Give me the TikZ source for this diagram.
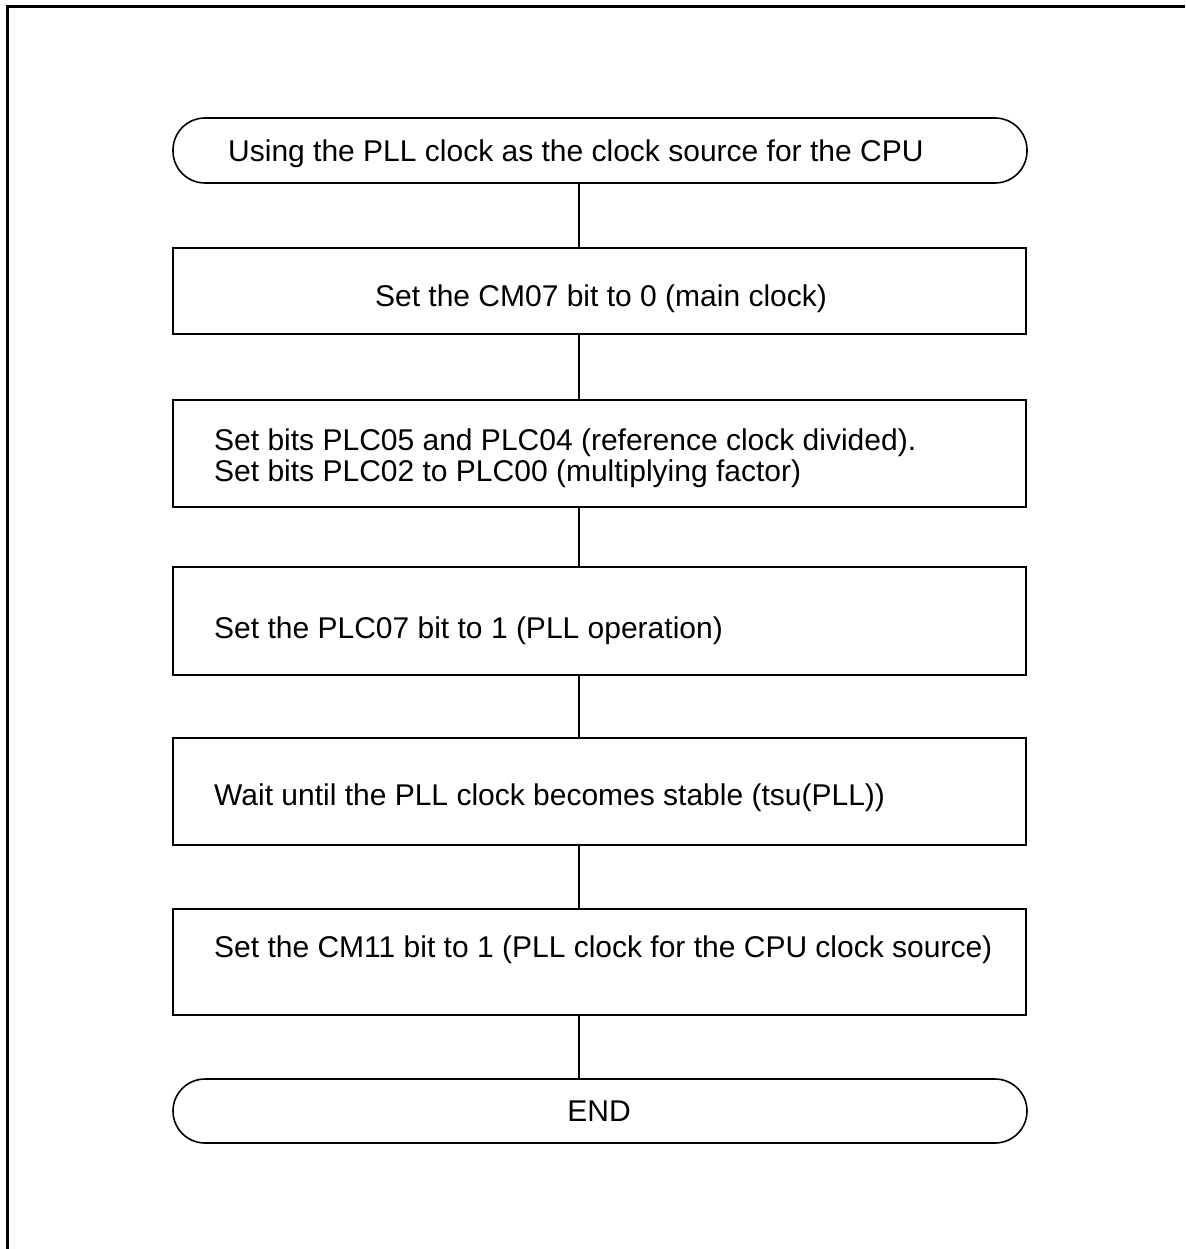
\documentclass[tikz,border=0pt]{standalone}
\usepackage{fontspec}
\setmainfont{Liberation Sans}
\begin{document}
\begin{tikzpicture}[x=1pt,y=-1pt,
  frameline/.style={line width=3pt},
  term/.style={draw,line width=1.6pt,rectangle,minimum width=854pt,rounded corners=32pt,inner sep=0pt},
  procbox/.style={draw,line width=1.6pt,rectangle,minimum width=853pt,inner sep=0pt},
  lbl/.style={font=\fontsize{30}{31}\selectfont,inner sep=0pt},
  conn/.style={line width=1.6pt}]
\useasboundingbox (0,0) rectangle (1185,1249);
\fill[white] (0,0) rectangle (1185,1249);
\draw[frameline] (7,1249) -- (7,7) -- (1185,7);

\node[term,minimum height=65pt] (start) at (600,150.5) {};
\node[procbox,minimum height=86pt] (b1) at (599.5,291) {};
\node[procbox,minimum height=107pt] (b2) at (599.5,453.5) {};
\node[procbox,minimum height=108pt] (b3) at (599.5,621) {};
\node[procbox,minimum height=107pt] (b4) at (599.5,791.5) {};
\node[procbox,minimum height=106pt] (b5) at (599.5,962) {};
\node[term,minimum height=64pt] (end) at (600,1111) {};

\node[lbl,anchor=base west] (tstart) at (228,162) {Using the PLL clock as the clock source for the CPU};
\node[lbl,anchor=base] (t1) at (601,306) {Set the CM07 bit to 0 (main clock)};
\node[lbl,anchor=base west] (t2a) at (214,450) {Set bits PLC05 and PLC04 (reference clock divided).};
\node[lbl,anchor=base west] (t2b) at (214,481) {Set bits PLC02 to PLC00 (multiplying factor)};
\node[lbl,anchor=base west] (t3) at (214,638) {Set the PLC07 bit to 1 (PLL operation)};
\node[lbl,anchor=base west] (t4) at (214,805) {Wait until the PLL clock becomes stable (tsu(PLL))};
\node[lbl,anchor=base west] (t5) at (214,957) {Set the CM11 bit to 1 (PLL clock for the CPU clock source)};
\node[lbl,anchor=base] (tend) at (599,1121) {END};

\coordinate (cx) at (579,0);
\draw[conn] (start.south -| cx) -- (b1.north -| cx);
\draw[conn] (b1.south -| cx) -- (b2.north -| cx);
\draw[conn] (b2.south -| cx) -- (b3.north -| cx);
\draw[conn] (b3.south -| cx) -- (b4.north -| cx);
\draw[conn] (b4.south -| cx) -- (b5.north -| cx);
\draw[conn] (b5.south -| cx) -- (end.north -| cx);
\end{tikzpicture}
\end{document}
